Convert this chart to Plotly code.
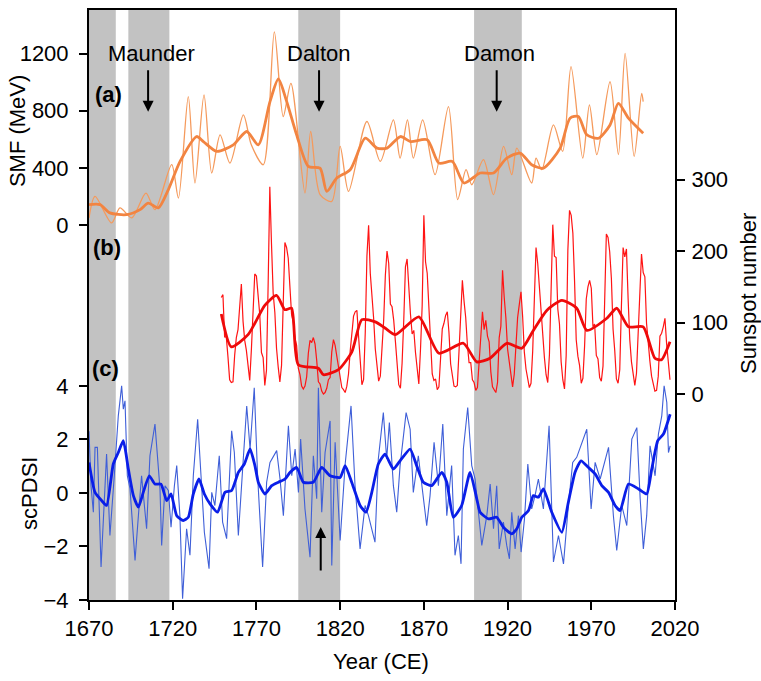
import plotly.graph_objects as go

# ---------------- data ----------------
# (a) SMF (MeV) thin series
smf_years = [1670, 1673.6, 1683.5, 1688.5, 1695.5, 1704, 1709.4, 1719.4, 1723.4, 1729.3,
             1733.3, 1738.7, 1743.3, 1748.3, 1754.2, 1762.2, 1767, 1774.1, 1780.7, 1786,
             1790.6, 1799, 1802.4, 1808, 1815, 1820, 1825, 1836, 1844, 1851.8,
             1855.8, 1860.2, 1863.7, 1869.3, 1876.7, 1884.7, 1890.2, 1895.2, 1898.6, 1905.6,
             1911.6, 1917.6, 1922.5, 1925.5, 1934.4, 1937, 1940.4, 1947.4, 1952.9, 1957.9,
             1964.9, 1968.9, 1973.3, 1981.2, 1986.2, 1990.2, 1995.6, 2000.1, 2001]
smf_values = [51, 202, 16, 121, 51, 225, 109, 423, 190, 899,
              295, 911, 365, 632, 434, 771, 560, 423, 1352, 760,
              992, 225, 655, 214, 167, 551, 237, 725, 446, 736,
              469, 736, 469, 736, 353, 829, 179, 388, 283, 458,
              214, 551, 353, 539, 295, 469, 388, 701, 516, 1108,
              469, 841, 493, 1003, 493, 1201, 481, 922, 864]

# (a) SMF smoothed
smf_s_years = [1670, 1676.6, 1682.5, 1692.5, 1700.5, 1705.4, 1711.4, 1717.4, 1724.4, 1734.3,
               1738.3, 1746.3, 1756.2, 1764.2, 1771.1, 1778.1, 1783.1, 1788.1, 1794, 1801,
               1808, 1812, 1818, 1826, 1835, 1842, 1848, 1856, 1862, 1872,
               1879, 1887, 1894, 1903.6, 1911.6, 1919.5, 1927.5, 1934.4, 1941.4, 1951.4,
               1957.3, 1962.3, 1967.3, 1974.3, 1981.2, 1986.2, 1992.2, 2001]
smf_s_values = [144, 144, 86, 74, 109, 155, 121, 249, 446, 620,
                585, 516, 562, 655, 562, 864, 1022, 864, 632, 411,
                399, 237, 330, 388, 608, 539, 539, 620, 585, 597,
                434, 446, 295, 365, 365, 469, 504, 423, 399, 539,
                748, 760, 632, 608, 701, 852, 748, 643]

# (b) Sunspot number, annual, starting 1749
sunspot_first_year = 1749
sunspot_values = [135, 139, 80, 80, 52, 20, 16, 17, 54, 79,
                  90, 120, 154, 102, 75, 61, 35, 19, 63, 116,
                  168, 165, 136, 111, 58, 51, 12, 33, 154, 290,
                  210, 141, 114, 64, 38, 17, 40, 138, 212, 205,
                  190, 150, 111, 100, 78, 68, 36, 27, 11, 7,
                  11, 24, 57, 75, 72, 79, 70, 47, 17, 14,
                  4, 0, 2, 8, 20, 23, 59, 76, 68, 53,
                  39, 24, 9, 6, 2, 11, 28, 60, 83, 109,
                  115, 117, 81, 44, 13, 20, 86, 193, 236, 169,
                  143, 106, 63, 40, 18, 25, 66, 103, 166, 200,
                  183, 126, 122, 103, 74, 39, 13, 8, 43, 104,
                  178, 189, 147, 112, 84, 89, 58, 31, 14, 63,
                  124, 250, 185, 169, 110, 75, 28, 19, 21, 6,
                  10, 54, 91, 99, 110, 115, 86, 42, 22, 11,
                  10, 12, 60, 122, 159, 130, 107, 69, 44, 44,
                  20, 16, 5, 9, 41, 70, 115, 90, 103, 81,
                  73, 31, 10, 6, 2, 16, 79, 95, 173, 135,
                  106, 63, 44, 24, 10, 28, 74, 107, 125, 143,
                  108, 59, 35, 19, 9, 15, 60, 133, 205, 183,
                  148, 113, 79, 51, 27, 16, 55, 154, 237, 193,
                  191, 119, 98, 45, 20, 7, 54, 201, 257, 250,
                  225, 159, 76, 53, 40, 15, 22, 67, 133, 150,
                  159, 148, 94, 98, 54, 49, 23, 18, 39, 131,
                  224, 219, 199, 162, 91, 61, 21, 15, 34, 123,
                  205, 192, 203, 133, 76, 45, 25, 12, 29, 88,
                  136, 196, 170, 164, 99, 65, 46, 25, 13, 4,
                  5, 25, 81, 85, 94, 106, 70, 40, 20]
sunspot_years = list(range(sunspot_first_year, sunspot_first_year + len(sunspot_values)))

# (b) Sunspot smoothed
sun_s_years = [1749, 1755, 1765, 1775, 1782, 1787, 1791, 1795, 1807, 1810,
               1819, 1827, 1833, 1841, 1847, 1853, 1867, 1879, 1893.6, 1901.6,
               1909.5, 1919.5, 1928.5, 1935.4, 1943.4, 1952.4, 1961.3, 1967.3, 1979.3, 1985.2,
               1992.2, 2001, 2008, 2012, 2017]
sun_s_values = [112, 66, 83, 124, 138, 118, 120, 41, 36, 27,
                34, 59, 104, 101, 92, 83, 108, 57, 71, 45,
                50, 71, 64, 89, 117, 131, 120, 89, 106, 120,
                94, 94, 50, 48, 73]

# (c) scPDSI thin
pdsi_years = [1670, 1671.2, 1672.6, 1673.6, 1675, 1677.2, 1680.5, 1682.5, 1685.1, 1686.5,
              1687.5, 1689.5, 1690.5, 1691.5, 1692.9, 1694.5, 1697.5, 1699.5, 1701.4, 1704.4,
              1706.4, 1709.4, 1712.4, 1713.4, 1715.4, 1717.4, 1719, 1721, 1722.4, 1724.3,
              1725.9, 1728.3, 1730.3, 1732.3, 1734.9, 1736.9, 1738.9, 1741.7, 1743.3, 1745.2,
              1747.8, 1749.8, 1752.2, 1755.2, 1756.8, 1759.2, 1761.6, 1764.2, 1766.2, 1768.7,
              1770.7, 1773.7, 1776.1, 1778.1, 1782.1, 1784.1, 1786.1, 1789.1, 1791.1, 1793.1,
              1795.1, 1796.4, 1799, 1802, 1804, 1806, 1807, 1809, 1811, 1814,
              1815, 1817, 1820, 1823, 1826.5, 1828.9, 1831.9, 1834.9, 1836.9, 1840.8,
              1842.8, 1845.8, 1847.8, 1849.4, 1851.8, 1853.8, 1855.8, 1859.4, 1861.8, 1863.7,
              1866.7, 1868.7, 1871.7, 1873.7, 1876.1, 1878.7, 1881.3, 1883.7, 1886.6, 1888.6,
              1890.6, 1892.2, 1893.6, 1896.2, 1898.6, 1900.6, 1902.6, 1904.6, 1907.6, 1909.6,
              1911.6, 1913.5, 1915, 1917.5, 1919.5, 1921.1, 1922.5, 1924.5, 1926.5, 1928.1,
              1930.1, 1932.1, 1934.4, 1936.4, 1938.4, 1941.4, 1944.8, 1947.4, 1950.4, 1953.4,
              1956.3, 1958.9, 1961.3, 1964.7, 1967.3, 1969.9, 1972.3, 1975.3, 1977.9, 1980.3,
              1983.2, 1985.2, 1988.2, 1991.2, 1994.2, 1997.2, 1999.2, 2001.1, 2003.1, 2005.1,
              2008.1, 2010.1, 2012.1, 2013.5, 2015.1, 2016.1, 2017.1]
pdsi_values = [2.3, 0.27, -0.72, 1.7, 1.7, -2.77, 1.45, -1.59, 0.64, 1.76,
               2.88, 4.0, 3.13, 3.44, 0.64, 0.15, -2.52, -0.85, 0.64, -1.34,
               1.39, 2.57, 0.15, -1.96, 0.27, 0.09, -1.28, 0.27, 1.02, -0.85,
               -3.95, -1.34, -2.33, 0.64, 2.75, 0.64, -1.47, -2.83, 0.02, -0.47,
               1.39, -1.09, -1.71, 2.32, 1.51, -1.59, 0.64, 3.25, 1.64, 3.93,
               0.64, -2.77, 0.4, 1.14, 1.58, 0.52, -0.85, 2.51, 0.64, 1.64,
               0.02, 2.01, -0.6, -2.4, 1.39, -0.22, 3.93, -0.72, 1.51, 2.69,
               -2.71, 1.89, -1.78, 1.08, 3.25, 0.27, -2.09, -0.47, -0.85, -1.84,
               1.27, 3.0, 1.27, 2.63, 0.27, -0.72, 1.02, 3.0, 2.38, 0.02,
               1.39, 0.27, -1.22, -0.1, 1.89, 0.27, 2.57, -0.85, 1.02, -2.33,
               -1.59, -2.65, 1.64, 3.19, 1.02, 0.52, -0.72, -1.96, -0.85, 0.33,
               -1.34, 0.27, -2.09, -1.09, -1.96, -2.46, -0.72, -2.09, -0.85, -2.21,
               -0.97, 1.08, -0.6, -0.1, 0.52, -0.6, 2.51, -2.58, -1.59, -2.65,
               -0.47, 1.14, 1.33, 1.89, 2.38, -0.6, 1.14, 0.52, 1.14, 1.7,
               -0.85, -2.15, -0.47, -1.22, 2.01, 2.44, -0.22, -2.09, -0.85, 1.76,
               0.64, 2.2, 2.88, 4.0, 3.38, 1.51, 1.76]

# (c) scPDSI smoothed
pdsi_s_years = [1670, 1673.6, 1677.6, 1680.5, 1684.5, 1687.5, 1690.5, 1693.5, 1696.5, 1699.5,
                1702.4, 1706, 1709.4, 1713, 1716.4, 1719, 1722.4, 1726.3, 1729.3, 1732.3,
                1735.7, 1738.9, 1742.3, 1746.8, 1751.2, 1755.2, 1759.2, 1762.8, 1766.2, 1769.1,
                1771.1, 1775.1, 1779.1, 1783.1, 1787.1, 1790.1, 1794.1, 1798, 1804, 1809,
                1814, 1820, 1823, 1826.9, 1831.9, 1835.5, 1838.9, 1842.8, 1846.8, 1851.8,
                1855.8, 1861.8, 1865.7, 1869.7, 1874.7, 1880.7, 1883.7, 1887.6, 1892.6, 1897.6,
                1901.6, 1903.6, 1908.6, 1913.5, 1917.5, 1922.5, 1925.5, 1928.5, 1932.5, 1935.4,
                1938.4, 1941.4, 1946.4, 1952.4, 1956.3, 1960.3, 1963.9, 1968.3, 1972.3, 1976.3,
                1980.3, 1984.2, 1987.2, 1992.2, 1998.2, 2003.1, 2006.1, 2009.7, 2013.1, 2017.1]
pdsi_s_values = [1.14, 0.02, -0.29, -0.47, 1.08, 1.51, 1.95, 0.89, -0.1, -0.53,
                 0.02, 0.64, 0.33, 0.33, -0.29, -0.04, -0.85, -1.03, -0.91, -0.04,
                 0.52, -0.04, -0.41, -0.72, 0.02, 0.09, 0.77, 1.08, 1.64, 1.02,
                 0.4, -0.04, 0.27, 0.4, 0.52, 0.77, 0.95, 0.4, 0.4, 0.95,
                 0.64, 0.58, 1.02, 0.4, -0.47, -0.72, 0.02, 1.08, 1.45, 0.89,
                 1.2, 1.64, 1.02, 0.4, 0.27, 0.77, 0.4, -0.91, -0.47, 0.77,
                 -0.22, -0.72, -0.97, -0.91, -1.28, -1.53, -1.34, -0.91, -0.66, -0.1,
                 -0.16, 0.15, -0.72, -1.47, -0.35, 0.77, 1.2, 0.95, 0.71, 0.27,
                 0.02, -0.47, -0.66, 0.33, 0.15, -0.04, 0.89, 1.95, 2.2, 2.94]

# grand-minimum shading periods
band_starts = [1670, 1693.5, 1795, 1900]
band_ends = [1686, 1718, 1820, 1928.5]

# event labels
event_names = ["Maunder", "Dalton", "Damon"]
event_text_years = [1707.6, 1807.4, 1915]
event_arrow_years = [1705.3, 1807.4, 1913.5]
up_arrow_year = 1808.4

x_ticks = [1670, 1720, 1770, 1820, 1870, 1920, 1970, 2020]
smf_ticks = [0, 400, 800, 1200]
pdsi_ticks = [-4, -2, 0, 2, 4]
sun_ticks = [0, 100, 200, 300]

# ---------------- figure ----------------
FONT = "Liberation Sans, Arial, sans-serif"
FS = 22

fig = go.Figure()

fig.add_trace(go.Scatter(x=smf_years, y=smf_values, mode="lines", yaxis="y",
                         line=dict(color="#F59A5C", width=1.3, shape="spline", smoothing=0.8),
                         showlegend=False, hoverinfo="skip"))
fig.add_trace(go.Scatter(x=smf_s_years, y=smf_s_values, mode="lines", yaxis="y",
                         line=dict(color="#F28441", width=2.8, shape="spline", smoothing=0.7),
                         showlegend=False, hoverinfo="skip"))
fig.add_trace(go.Scatter(x=sunspot_years, y=sunspot_values, mode="lines", yaxis="y3",
                         line=dict(color="#FF1414", width=1.2),
                         showlegend=False, hoverinfo="skip"))
fig.add_trace(go.Scatter(x=sun_s_years, y=sun_s_values, mode="lines", yaxis="y3",
                         line=dict(color="#EE0A0A", width=2.8, shape="spline", smoothing=0.6),
                         showlegend=False, hoverinfo="skip"))
fig.add_trace(go.Scatter(x=pdsi_years, y=pdsi_values, mode="lines", yaxis="y2",
                         line=dict(color="#3F5FD8", width=1.1),
                         showlegend=False, hoverinfo="skip"))
fig.add_trace(go.Scatter(x=pdsi_s_years, y=pdsi_s_values, mode="lines", yaxis="y2",
                         line=dict(color="#0A1EE8", width=2.8, shape="spline", smoothing=0.5),
                         showlegend=False, hoverinfo="skip"))

shapes = []
for s, e in zip(band_starts, band_ends):
    shapes.append(dict(type="rect", xref="x", yref="paper", x0=s, x1=e, y0=0, y1=1,
                       fillcolor="#C2C2C2", line=dict(width=0), layer="below"))

annotations = []
for name, ty, ay_ in zip(event_names, event_text_years, event_arrow_years):
    annotations.append(dict(x=ty, y=0.9257, xref="x", yref="paper", text=name,
                            showarrow=False, font=dict(size=FS, color="black", family=FONT),
                            xanchor="center", yanchor="middle"))
    annotations.append(dict(x=ay_, y=0.8277, xref="x", yref="paper", text="",
                            showarrow=True, ax=0, ay=-43, axref="pixel", ayref="pixel",
                            arrowhead=2, arrowsize=1.1, arrowwidth=2, arrowcolor="black"))
annotations.append(dict(x=up_arrow_year, y=0.1238, xref="x", yref="paper", text="",
                        showarrow=True, ax=0, ay=45, axref="pixel", ayref="pixel",
                        arrowhead=2, arrowsize=1.1, arrowwidth=2, arrowcolor="black"))

for lbl, px, py in [("(a)", 0.033, 0.8564), ("(b)", 0.031, 0.5968), ("(c)", 0.029, 0.3931)]:
    annotations.append(dict(x=px, y=py, xref="paper", yref="paper", text="<b>" + lbl + "</b>",
                            showarrow=False, font=dict(size=FS, color="black", family=FONT),
                            xanchor="center", yanchor="middle"))

annotations += [
    dict(x=-0.1220, y=0.7939, xref="paper", yref="paper", text="SMF (MeV)", textangle=-90,
         showarrow=False, font=dict(size=FS, color="black", family=FONT),
         xanchor="center", yanchor="middle"),
    dict(x=-0.1015, y=0.1807, xref="paper", yref="paper", text="scPDSI", textangle=-90,
         showarrow=False, font=dict(size=FS, color="black", family=FONT),
         xanchor="center", yanchor="middle"),
    dict(x=1.1246, y=0.5186, xref="paper", yref="paper", text="Sunspot number", textangle=-90,
         showarrow=False, font=dict(size=FS, color="black", family=FONT),
         xanchor="center", yanchor="middle"),
    dict(x=0.499, y=-0.1047, xref="paper", yref="paper", text="Year (CE)",
         showarrow=False, font=dict(size=FS, color="black", family=FONT),
         xanchor="center", yanchor="middle"),
]

axis_common = dict(showgrid=False, zeroline=False, showline=True, linecolor="black",
                   linewidth=2, ticks="outside", ticklen=8, tickwidth=2, tickcolor="black",
                   tickfont=dict(size=FS, color="black", family=FONT))

fig.update_layout(
    width=761, height=681,
    margin=dict(l=89, r=86, t=8, b=81, pad=0),
    paper_bgcolor="white", plot_bgcolor="white",
    font=dict(family=FONT, size=FS, color="black"),
    xaxis=dict(range=[1670, 2020], tickvals=x_ticks, ticktext=[str(v) for v in x_ticks],
               mirror=True, **axis_common),
    yaxis=dict(range=[-2620, 1504.5], tickvals=smf_ticks, side="left",
               ticklabelstandoff=6, **axis_common),
    yaxis2=dict(range=[-4, 18.04], tickvals=pdsi_ticks, side="left", overlaying="y",
                anchor="x", ticklabelstandoff=6, **axis_common),
    yaxis3=dict(range=[-288.3, 537.4], tickvals=sun_ticks, side="right", overlaying="y",
                anchor="x", ticklabelstandoff=2, **axis_common),
    shapes=shapes,
    annotations=annotations,
)

# remove the browser's default 8px body margin so the figure sits at the page origin
fig.write_html("out.html", config={"displayModeBar": False},
               post_script="document.body.style.margin='0px';")
